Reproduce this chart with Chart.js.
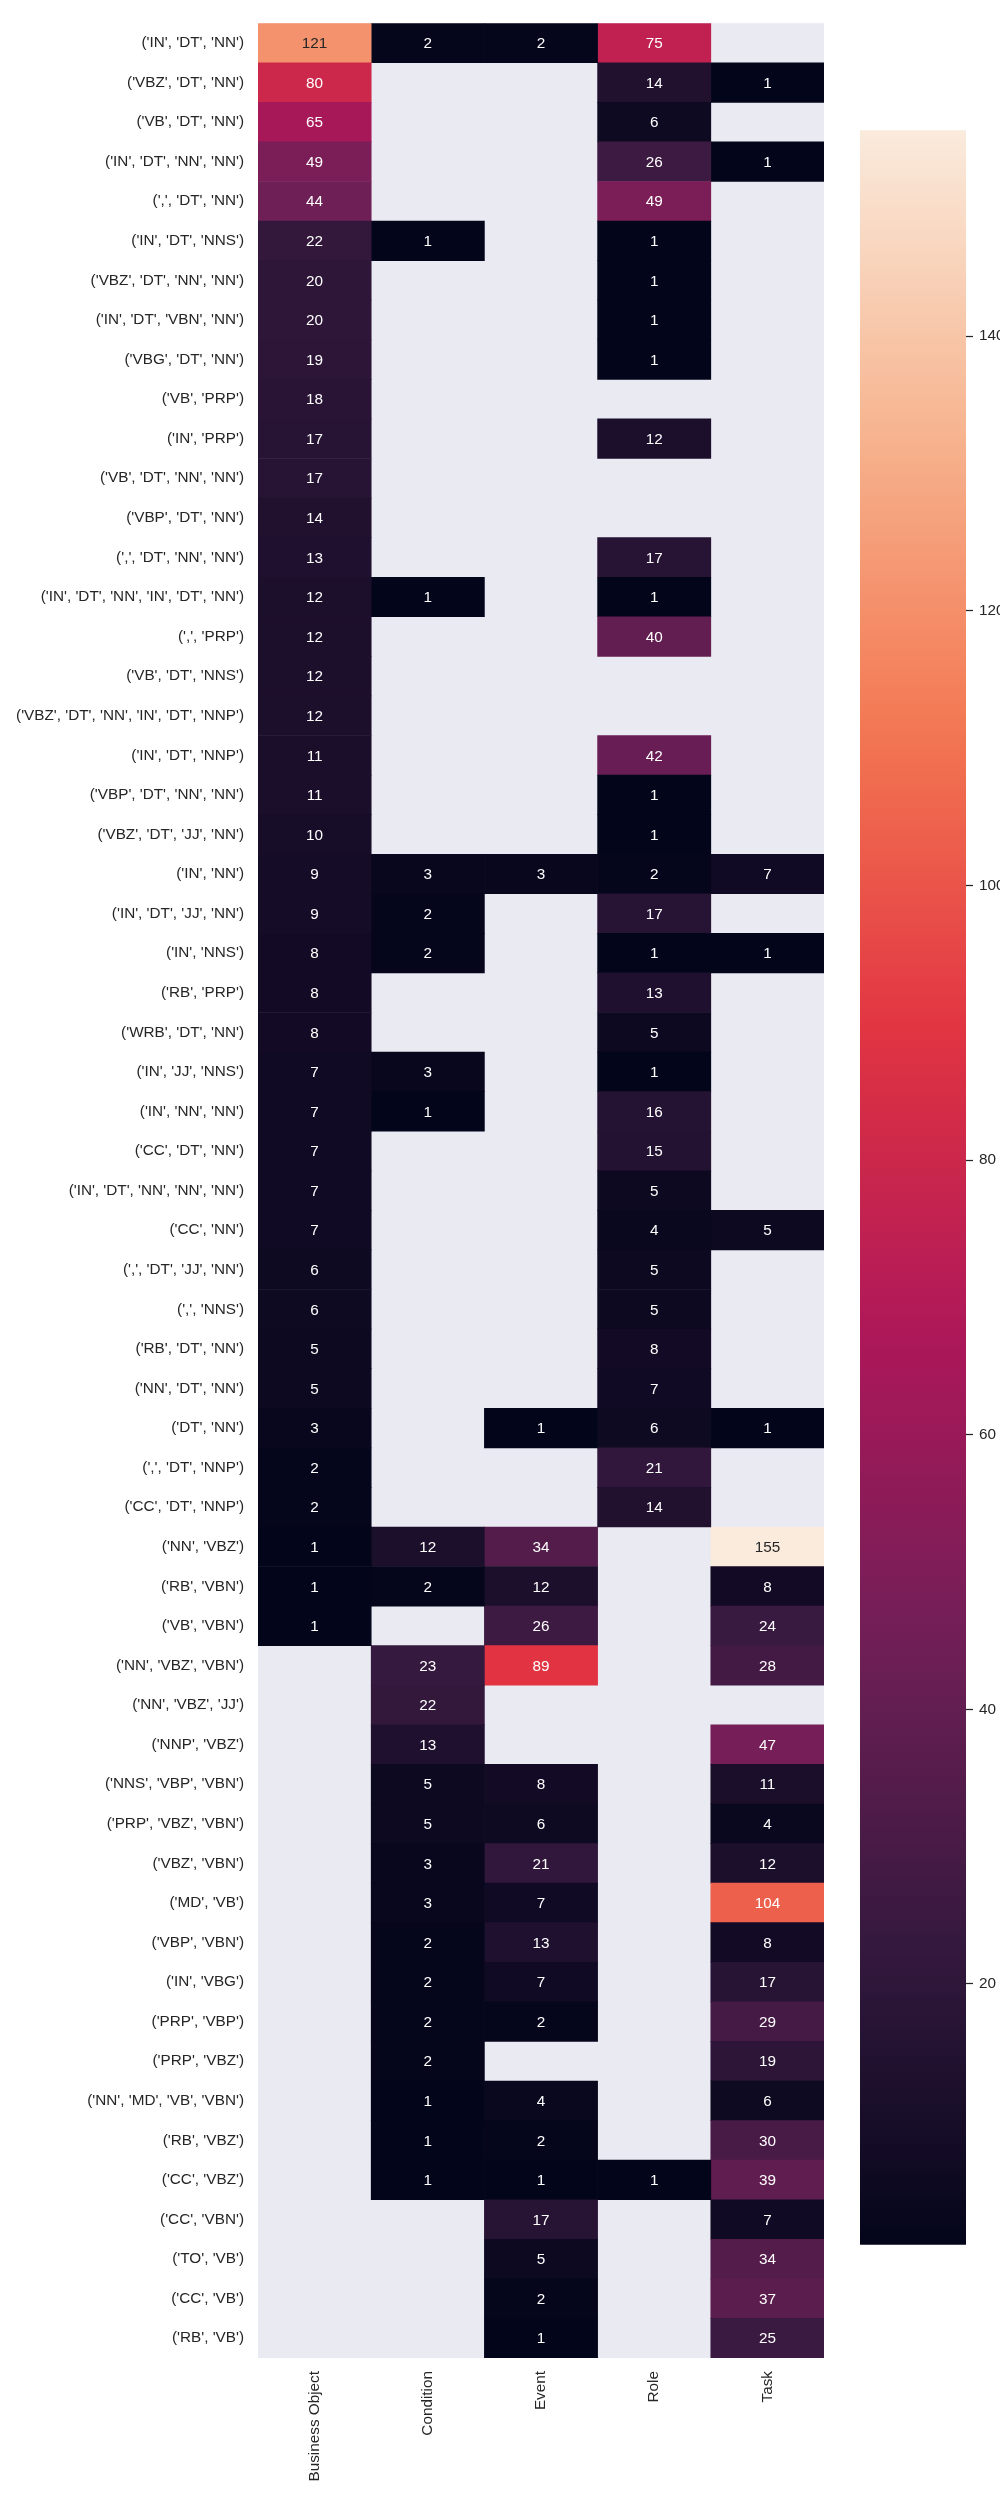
<!DOCTYPE html>
<html>
<head>
<meta charset="utf-8">
<script src="https://cdn.jsdelivr.net/npm/chart.js@4.4.1/dist/chart.umd.min.js"></script>
<style>
  html, body { margin: 0; padding: 0; background: #ffffff; overflow: hidden; }
  #wrap { position: relative; width: 1000px; height: 2500px; }
  #main { position: absolute; left: 0; top: 0; }
  #cbar { position: absolute; left: 860px; top: 115px; }
</style>
</head>
<body>
<div id="wrap">
  <canvas id="main" width="1000" height="2500"></canvas>
  <canvas id="cbar" width="140" height="2145"></canvas>
</div>
<script>
const rowLabels = [
  "('IN', 'DT', 'NN')", "('VBZ', 'DT', 'NN')", "('VB', 'DT', 'NN')", "('IN', 'DT', 'NN', 'NN')",
  "(',', 'DT', 'NN')", "('IN', 'DT', 'NNS')", "('VBZ', 'DT', 'NN', 'NN')", "('IN', 'DT', 'VBN', 'NN')",
  "('VBG', 'DT', 'NN')", "('VB', 'PRP')", "('IN', 'PRP')", "('VB', 'DT', 'NN', 'NN')",
  "('VBP', 'DT', 'NN')", "(',', 'DT', 'NN', 'NN')", "('IN', 'DT', 'NN', 'IN', 'DT', 'NN')", "(',', 'PRP')",
  "('VB', 'DT', 'NNS')", "('VBZ', 'DT', 'NN', 'IN', 'DT', 'NNP')", "('IN', 'DT', 'NNP')", "('VBP', 'DT', 'NN', 'NN')",
  "('VBZ', 'DT', 'JJ', 'NN')", "('IN', 'NN')", "('IN', 'DT', 'JJ', 'NN')", "('IN', 'NNS')",
  "('RB', 'PRP')", "('WRB', 'DT', 'NN')", "('IN', 'JJ', 'NNS')", "('IN', 'NN', 'NN')",
  "('CC', 'DT', 'NN')", "('IN', 'DT', 'NN', 'NN', 'NN')", "('CC', 'NN')", "(',', 'DT', 'JJ', 'NN')",
  "(',', 'NNS')", "('RB', 'DT', 'NN')", "('NN', 'DT', 'NN')", "('DT', 'NN')",
  "(',', 'DT', 'NNP')", "('CC', 'DT', 'NNP')", "('NN', 'VBZ')", "('RB', 'VBN')",
  "('VB', 'VBN')", "('NN', 'VBZ', 'VBN')", "('NN', 'VBZ', 'JJ')", "('NNP', 'VBZ')",
  "('NNS', 'VBP', 'VBN')", "('PRP', 'VBZ', 'VBN')", "('VBZ', 'VBN')", "('MD', 'VB')",
  "('VBP', 'VBN')", "('IN', 'VBG')", "('PRP', 'VBP')", "('PRP', 'VBZ')",
  "('NN', 'MD', 'VB', 'VBN')", "('RB', 'VBZ')", "('CC', 'VBZ')", "('CC', 'VBN')",
  "('TO', 'VB')", "('CC', 'VB')", "('RB', 'VB')"
];
const colLabels = ['Business Object', 'Condition', 'Event', 'Role', 'Task'];

const businessObject = [
  121, 80, 65, 49, 44, 22, 20, 20, 19, 18,
  17, 17, 14, 13, 12, 12, 12, 12, 11, 11,
  10, 9, 9, 8, 8, 8, 7, 7, 7, 7,
  7, 6, 6, 5, 5, 3, 2, 2, 1, 1,
  1, null, null, null, null, null, null, null, null, null,
  null, null, null, null, null, null, null, null, null
];
const condition = [
  2, null, null, null, null, 1, null, null, null, null,
  null, null, null, null, 1, null, null, null, null, null,
  null, 3, 2, 2, null, null, 3, 1, null, null,
  null, null, null, null, null, null, null, null, 12, 2,
  null, 23, 22, 13, 5, 5, 3, 3, 2, 2,
  2, 2, 1, 1, 1, null, null, null, null
];
const eventVals = [
  2, null, null, null, null, null, null, null, null, null,
  null, null, null, null, null, null, null, null, null, null,
  null, 3, null, null, null, null, null, null, null, null,
  null, null, null, null, null, 1, null, null, 34, 12,
  26, 89, null, null, 8, 6, 21, 7, 13, 7,
  2, null, 4, 2, 1, 17, 5, 2, 1
];
const role = [
  75, 14, 6, 26, 49, 1, 1, 1, 1, null,
  12, null, null, 17, 1, 40, null, null, 42, 1,
  1, 2, 17, 1, 13, 5, 1, 16, 15, 5,
  4, 5, 5, 8, 7, 6, 21, 14, null, null,
  null, null, null, null, null, null, null, null, null, null,
  null, null, null, null, 1, null, null, null, null
];
const task = [
  null, 1, null, 1, null, null, null, null, null, null,
  null, null, null, null, null, null, null, null, null, null,
  null, 7, null, 1, null, null, null, null, null, null,
  5, null, null, null, null, 1, null, null, 155, 8,
  24, 28, null, 47, 11, 4, 12, 104, 8, 17,
  29, 19, 6, 30, 39, 7, 34, 37, 25
];
const colorbarTicks = [20, 40, 60, 80, 100, 120, 140];

const columns = [businessObject, condition, eventVals, role, task];
const allVals = columns.flat().filter(v => v != null);
const vmin = Math.min(...allVals);
const vmax = Math.max(...allVals);

// seaborn "rocket" colormap key stops
const rocketStops = [
  [0.0, [3, 5, 26]],
  [1/7, [53, 25, 62]],
  [2/7, [112, 31, 87]],
  [3/7, [173, 23, 89]],
  [4/7, [225, 51, 66]],
  [5/7, [243, 118, 81]],
  [6/7, [246, 180, 143]],
  [1.0, [250, 235, 221]]
];
function rocket(t) {
  t = Math.max(0, Math.min(1, t));
  for (let i = 1; i < rocketStops.length; i++) {
    const [t1, c1] = rocketStops[i];
    const [t0, c0] = rocketStops[i - 1];
    if (t <= t1) {
      const f = (t - t0) / (t1 - t0);
      return c0.map((c, k) => Math.round(c + f * (c1[k] - c)));
    }
  }
  return rocketStops[rocketStops.length - 1][1];
}
const rgbStr = c => `rgb(${c[0]},${c[1]},${c[2]})`;
function luminance(c) {
  const lin = c.map(v => { v /= 255; return v <= 0.03928 ? v / 12.92 : Math.pow((v + 0.055) / 1.055, 2.4); });
  return 0.2126 * lin[0] + 0.7152 * lin[1] + 0.0722 * lin[2];
}
const colorFor = v => rocket((v - vmin) / (vmax - vmin));

const FONT = "'Liberation Sans', Arial, 'DejaVu Sans', sans-serif";
const FS = 15.3;

const datasets = columns.map((vals, j) => ({
  label: colLabels[j],
  data: vals.map(v => v == null ? null : [j, j + 1]),
  values: vals,
  backgroundColor: ctx => {
    const v = vals[ctx.dataIndex];
    return v == null ? 'rgba(0,0,0,0)' : rgbStr(colorFor(v));
  },
  borderWidth: 0,
  barPercentage: 1.0,
  categoryPercentage: 1.0,
  grouped: false
}));

const bgPlugin = {
  id: 'heatBg',
  beforeDatasetsDraw(chart) {
    const { ctx, chartArea } = chart;
    ctx.save();
    ctx.fillStyle = '#EAEAF2';
    ctx.fillRect(chartArea.left, chartArea.top, chartArea.right - chartArea.left, chartArea.bottom - chartArea.top);
    ctx.restore();
  }
};
const annotPlugin = {
  id: 'heatAnnot',
  afterDatasetsDraw(chart) {
    const { ctx } = chart;
    ctx.save();
    ctx.font = `${FS}px ${FONT}`;
    ctx.textAlign = 'center';
    ctx.textBaseline = 'middle';
    chart.data.datasets.forEach((ds, di) => {
      const meta = chart.getDatasetMeta(di);
      meta.data.forEach((el, i) => {
        const v = ds.values[i];
        if (v == null) return;
        const cx = (el.x + el.base) / 2;
        const lum = luminance(colorFor(v));
        ctx.fillStyle = lum > 0.4 ? '#262626' : '#ffffff';
        ctx.fillText(String(v), cx, el.y + 1);
      });
    });
    ctx.restore();
  }
};

new Chart(document.getElementById('main'), {
  type: 'bar',
  data: { labels: rowLabels, datasets },
  plugins: [bgPlugin, annotPlugin],
  options: {
    indexAxis: 'y',
    responsive: false,
    animation: false,
    devicePixelRatio: 1,
    layout: { padding: { top: 18, right: 176, left: 0, bottom: 0 } },
    plugins: { legend: { display: false }, tooltip: { enabled: false } },
    scales: {
      y: {
        type: 'category',
        grid: { display: false, drawTicks: false },
        border: { display: false },
        ticks: { autoSkip: false, padding: 14, color: '#262626', font: { family: FONT, size: FS } },
        afterFit: s => { s.width = 258; }
      },
      x: {
        type: 'linear',
        min: 0,
        max: colLabels.length,
        grid: { display: false, drawTicks: false },
        border: { display: false },
        afterBuildTicks: s => { s.ticks = colLabels.map((_, j) => ({ value: j + 0.5 })); },
        ticks: {
          autoSkip: false,
          minRotation: 90,
          maxRotation: 90,
          padding: 13,
          color: '#262626',
          font: { family: FONT, size: FS },
          callback: v => colLabels[Math.floor(v)]
        },
        afterFit: s => { s.height = 142; }
      }
    }
  }
});

new Chart(document.getElementById('cbar'), {
  type: 'bar',
  data: {
    labels: ['cb'],
    datasets: [{
      data: [[vmin, vmax]],
      borderWidth: 0,
      barPercentage: 1.0,
      categoryPercentage: 1.0,
      backgroundColor: context => {
        const chart = context.chart;
        const { ctx, chartArea, scales } = chart;
        if (!chartArea) return '#000';
        const y0 = scales.y.getPixelForValue(vmin);
        const y1 = scales.y.getPixelForValue(vmax);
        const g = ctx.createLinearGradient(0, y0, 0, y1);
        for (let i = 0; i <= 40; i++) {
          const t = i / 40;
          g.addColorStop(t, rgbStr(rocket(t)));
        }
        return g;
      }
    }]
  },
  options: {
    responsive: false,
    animation: false,
    devicePixelRatio: 1,
    layout: { padding: { top: 10, bottom: 10, left: 0, right: 0 } },
    plugins: { legend: { display: false }, tooltip: { enabled: false } },
    scales: {
      x: { display: false },
      y: {
        position: 'right',
        min: vmin,
        max: vmax,
        grid: { drawOnChartArea: false, drawTicks: true, tickLength: 7, tickColor: '#262626', tickWidth: 1.25 },
        border: { display: false },
        afterBuildTicks: s => { s.ticks = colorbarTicks.map(v => ({ value: v })); },
        ticks: { padding: 6, color: '#262626', font: { family: FONT, size: FS } },
        afterFit: s => { s.width = 34; }
      }
    }
  }
});
</script>
</body>
</html>
